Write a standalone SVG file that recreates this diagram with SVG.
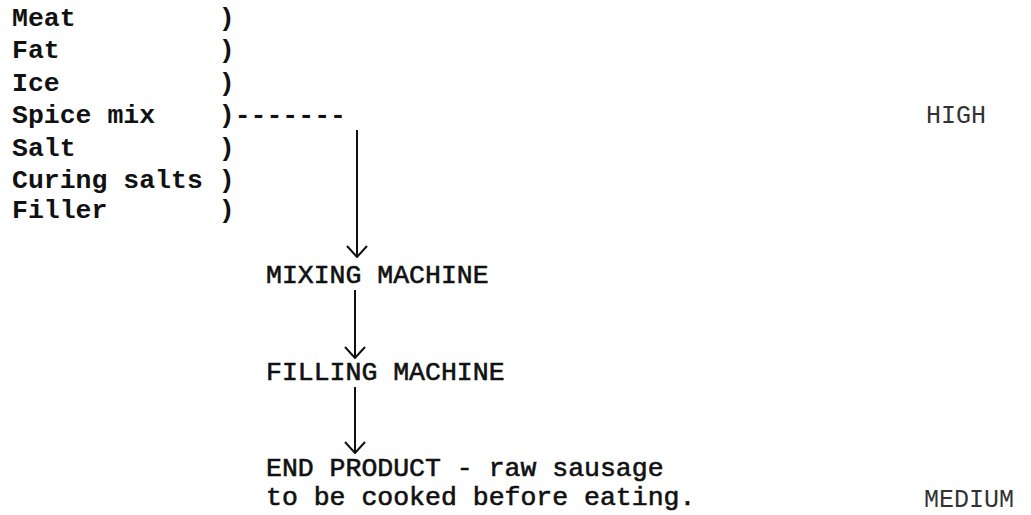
<svg xmlns="http://www.w3.org/2000/svg" width="1031" height="515" viewBox="0 0 1031 515">
<style>
text{font-family:"Liberation Mono","DejaVu Sans Mono",monospace;font-size:26.5px;fill:#111;white-space:pre}
.b{font-weight:bold}
.m{stroke:#111;stroke-width:0.6}
.lvl{fill:#333;font-size:25px}
.c{stroke:#111;stroke-width:2;fill:none}
</style>
<defs>
<marker id="ah" viewBox="-1 -1 13 22" refX="11" refY="10" markerWidth="13" markerHeight="22" markerUnits="userSpaceOnUse" orient="auto">
<path d="M0 0 L11 10 L0 20" stroke="#111" stroke-width="2" fill="none"/>
</marker>
</defs>
<rect width="1031" height="515" fill="#fff"/>
<g id="ingredients">
<text class="b" x="12" y="26">Meat         )</text>
<text class="b" x="12" y="58">Fat          )</text>
<text class="b" x="12" y="91">Ice          )</text>
<text class="b" x="12" y="123">Spice mix    )-------</text>
<text class="b" x="12" y="156">Salt         )</text>
<text class="b" x="12" y="188">Curing salts )</text>
<text class="b" x="12" y="218">Filler       )</text>
</g>
<g id="high"><text class="lvl" x="926" y="123">HIGH</text></g>
<g id="mixing"><text class="m" x="266" y="283">MIXING MACHINE</text></g>
<g id="filling"><text class="m" x="266" y="380">FILLING MACHINE</text></g>
<g id="end"><text class="m" x="266" y="476">END PRODUCT - raw sausage</text>
<text class="m" x="266" y="505">to be cooked before eating.</text></g>
<g id="medium"><text class="lvl" x="924" y="507">MEDIUM</text></g>
<g id="connectors">
<path class="c" d="M357 130 L357 257" marker-end="url(#ah)"/>
<path class="c" d="M355 290 L355 358" marker-end="url(#ah)"/>
<path class="c" d="M355 387 L355 453" marker-end="url(#ah)"/>
</g>
</svg>
